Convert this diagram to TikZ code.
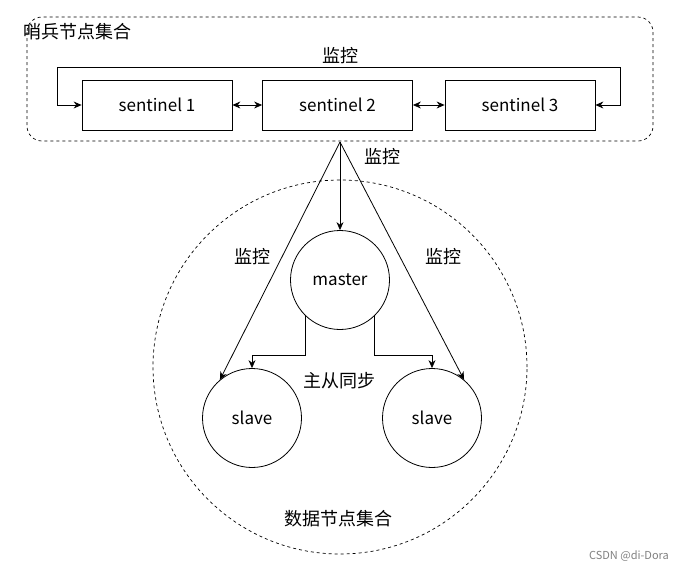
\documentclass[tikz,border=0pt]{standalone}
\usepackage{fontspec}
\setmainfont{Noto Sans CJK SC}
\usetikzlibrary{arrows.meta}

\begin{document}
\begin{tikzpicture}[x=1pt,y=-1pt,line width=0.8pt,>={Stealth[length=8pt,width=7pt]},
	sbox/.style={draw,minimum width=150pt,minimum height=50pt,inner sep=0pt,font=\fontsize{17}{20}\selectfont},
	dnode/.style={draw,circle,minimum size=99pt,inner sep=0pt,font=\fontsize{17}{20}\selectfont},
	lbl/.style={font=\fontsize{18}{20}\selectfont},
	grp/.style={dash pattern=on 3pt off 3pt,line width=0.7pt}]
				\useasboundingbox (0,0) rectangle (688,571);
				% sentinels
				\draw[grp,rounded corners=15pt] (27,17) rectangle (653,141);
				\node[lbl,anchor=west] (title) at (20,32) {哨兵节点集合};
				\node[sbox] (s1) at (157,105) {sentinel 1};
				\node[sbox] (s2) at (337.5,105) {sentinel 2};
				\node[sbox] (s3) at (520,105) {sentinel 3};
				\draw[<->] (s1) -- (s2);
				\draw[<->] (s2) -- (s3);
				\coordinate (lt) at (57,67);
				\coordinate (rt) at (620,67);
				\draw[<->] (s1.west) -| (lt) -- (rt) |- (s3.east);
				\node[lbl] (mon0) at (340,56) {监控};
				% data nodes
				\draw[grp] (340,367) circle[radius=187pt];
				\coordinate (apex) at (340,142);
				\node[dnode] (master) at (340,280) {master};
				\node[dnode] (slave1) at (252,418) {slave};
				\node[dnode] (slave2) at (432,418) {slave};
				\draw[->] (apex) -- (master);
				\draw[->] (apex) -- (slave1.130);
				\draw[->] (apex) -- (slave2.50);
				\node[lbl] (mon1) at (382,157) {监控};
				\node[lbl] (mon2) at (252,257) {监控};
				\node[lbl] (mon3) at (443,257) {监控};
				\coordinate (j1) at (252,355);
				\coordinate (j2) at (432,355);
				\draw[->] (master.226) |- (j1) -- (slave1.north);
				\draw[->] (master.-46) |- (j2) -- (slave2.north);
				\node[lbl] (sync) at (339,381) {主从同步};
				\node[lbl] (data) at (338,519) {数据节点集合};
				\node[font=\fontsize{11}{12}\selectfont,text=gray] (wm) at (629,556) {CSDN @di-Dora};
			\end{tikzpicture}
\end{document}
